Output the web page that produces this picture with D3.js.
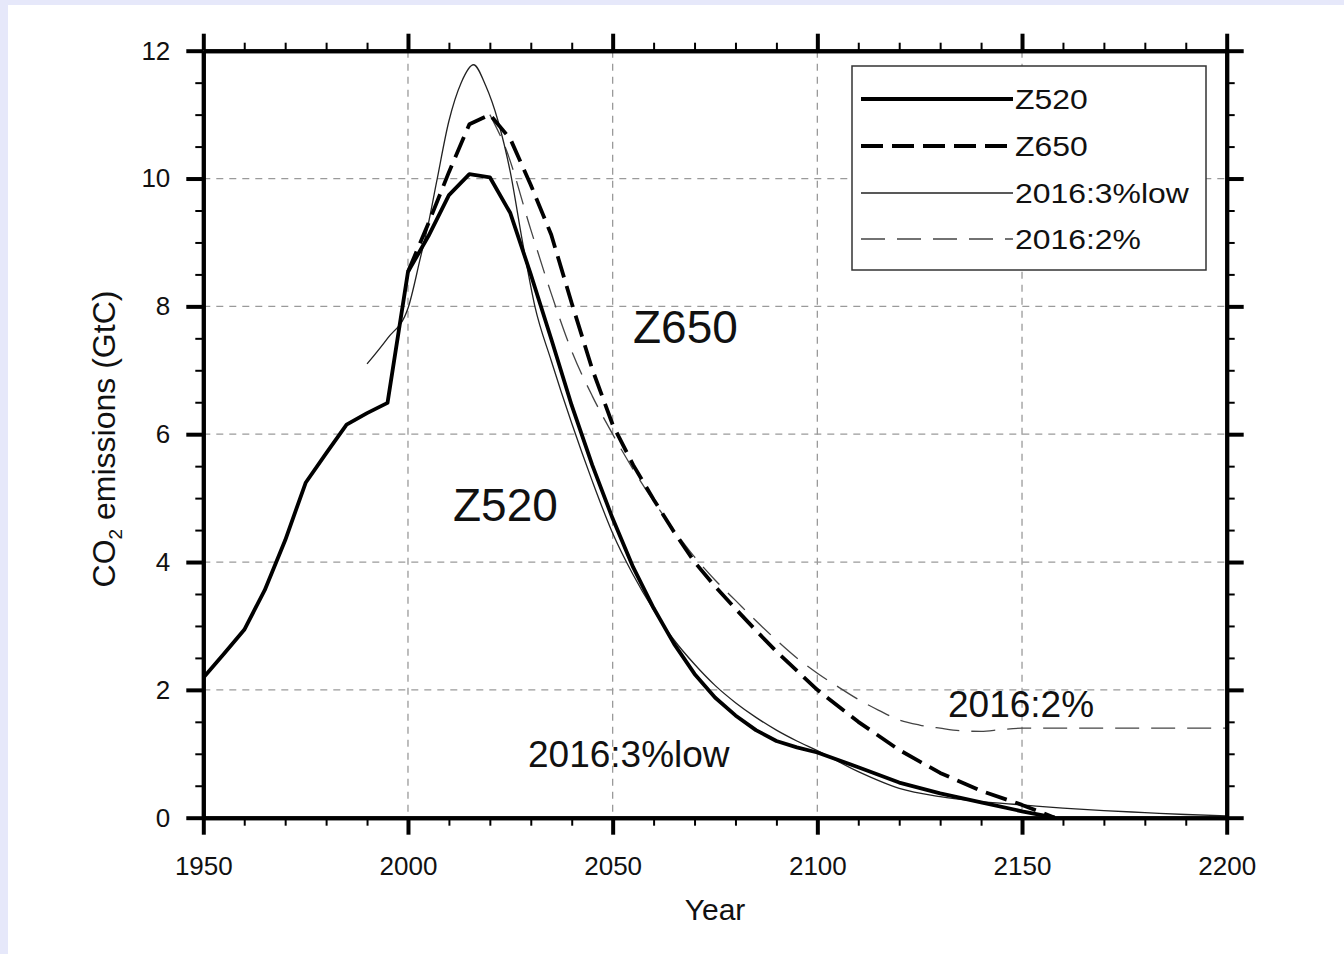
<!DOCTYPE html>
<html>
<head>
<meta charset="utf-8">
<script src="https://cdn.jsdelivr.net/npm/d3@7"></script>
<style>
  html, body { margin: 0; padding: 0; background: #e6e8fa; }
  svg { display: block; }
  text { font-family: "Liberation Sans", Arial, Helvetica, sans-serif; fill: #111; }
</style>
</head>
<body>
<svg id="chart" width="1344" height="954"></svg>
<script>
// Historical + Z520 pathway (GtC per year)
const z520Years  = [1950,1955,1960,1965,1970,1975,1980,1985,1990,1995,2000,2005,2010,2015,2020,2025,2030,2035,2040,2045,2050,2055,2060,2065,2070,2075,2080,2085,2090,2095,2100,2110,2120,2130,2140,2150,2158];
const z520Values = [2.19,2.56,2.94,3.56,4.34,5.24,5.70,6.15,6.33,6.49,8.54,9.10,9.74,10.07,10.02,9.46,8.50,7.49,6.45,5.52,4.68,3.92,3.28,2.72,2.25,1.88,1.60,1.37,1.20,1.10,1.02,0.79,0.55,0.38,0.24,0.10,0.0];

// Z650 pathway
const z650Years  = [2000,2005,2010,2015,2020,2025,2030,2035,2040,2045,2050,2055,2060,2065,2070,2075,2080,2085,2090,2095,2100,2110,2120,2130,2140,2150,2158];
const z650Values = [8.54,9.30,10.10,10.85,11.00,10.62,9.90,9.12,8.05,7.02,6.15,5.52,4.98,4.47,4.00,3.62,3.27,2.93,2.60,2.30,2.00,1.50,1.06,0.70,0.42,0.20,0.0];

// 2016:3%low pathway
const low3Years  = [1990,1995,2000,2003,2005,2007,2010,2013,2016,2019,2022,2025,2028,2031,2035,2040,2045,2050,2055,2060,2065,2070,2075,2080,2085,2090,2095,2100,2110,2120,2130,2140,2150,2160,2170,2180,2190,2200];
const low3Values = [7.10,7.50,7.97,8.75,9.30,9.95,10.90,11.50,11.78,11.45,10.90,10.10,9.00,8.00,7.15,6.17,5.27,4.45,3.80,3.25,2.78,2.40,2.07,1.80,1.57,1.37,1.20,1.05,0.72,0.46,0.33,0.25,0.20,0.15,0.11,0.08,0.05,0.03];

// 2016:2% pathway
const pct2Years  = [2020,2024,2030,2035,2040,2045,2050,2055,2060,2065,2070,2075,2080,2085,2090,2095,2100,2105,2110,2115,2120,2125,2130,2135,2140,2145,2150,2160,2200];
const pct2Values = [11.00,10.45,9.20,8.20,7.30,6.60,6.00,5.45,4.95,4.50,4.08,3.72,3.40,3.08,2.78,2.50,2.26,2.05,1.85,1.68,1.53,1.45,1.40,1.36,1.35,1.38,1.40,1.40,1.40];

const xMajor = [1950,2000,2050,2100,2150,2200];
const xMinor = d3.range(1950, 2201, 10);
const yMajor = [0,2,4,6,8,10,12];
const yMinor = d3.range(0, 12.01, 0.5);
const legendLabels = ["Z520","Z650","2016:3%low","2016:2%"];

const svg = d3.select("#chart");

// page panel
svg.append("rect").attr("x", 8).attr("y", 5).attr("width", 1336).attr("height", 949).attr("fill", "#fff");

const x = d3.scaleLinear().domain([1950, 2200]).range([203.3, 1226.7]);
const y = d3.scaleLinear().domain([0, 12]).range([817.7, 50.7]);
const [x0, x1] = x.range();
const [yb, yt] = y.range();

// grid
const grid = svg.append("g").attr("stroke", "#9a9a9a").attr("stroke-width", 1.3).attr("stroke-dasharray", "7,6");
grid.selectAll("line.gx").data(xMajor.slice(1, -1)).join("line")
  .attr("x1", d => x(d)).attr("x2", d => x(d)).attr("y1", yt).attr("y2", yb);
grid.selectAll("line.gy").data(yMajor.slice(1, -1)).join("line")
  .attr("x1", x0).attr("x2", x1).attr("y1", d => y(d)).attr("y2", d => y(d));

// series
const toPts = (ys, vs) => ys.map((yr, i) => [yr, vs[i]]);
const lineLin = d3.line().x(d => x(d[0])).y(d => y(d[1]));
const lineSmooth = d3.line().x(d => x(d[0])).y(d => y(d[1])).curve(d3.curveMonotoneX);

const styles = [
  { w: 3.8, dash: null, color: "#000" },
  { w: 3.8, dash: "22,9", color: "#000" },
  { w: 1.3, dash: null, color: "#222" },
  { w: 1.3, dash: "24,12", color: "#444" }
];

svg.append("path").datum(toPts(pct2Years, pct2Values)).attr("d", lineSmooth)
  .attr("fill", "none").attr("stroke", styles[3].color).attr("stroke-width", styles[3].w).attr("stroke-dasharray", styles[3].dash);
svg.append("path").datum(toPts(low3Years, low3Values)).attr("d", lineSmooth)
  .attr("fill", "none").attr("stroke", styles[2].color).attr("stroke-width", styles[2].w);
svg.append("path").datum(toPts(z650Years, z650Values)).attr("d", lineLin)
  .attr("fill", "none").attr("stroke", styles[1].color).attr("stroke-width", styles[1].w).attr("stroke-dasharray", styles[1].dash).attr("stroke-linejoin", "round");
svg.append("path").datum(toPts(z520Years, z520Values)).attr("d", lineLin)
  .attr("fill", "none").attr("stroke", styles[0].color).attr("stroke-width", styles[0].w).attr("stroke-linejoin", "round");

// annotations
svg.append("text").attr("x", 633).attr("y", 343).attr("font-size", 46).text("Z650");
svg.append("text").attr("x", 453).attr("y", 521).attr("font-size", 46).text("Z520");
svg.append("text").attr("x", 528).attr("y", 767).attr("font-size", 37).text("2016:3%low");
svg.append("text").attr("x", 948).attr("y", 717).attr("font-size", 37).text("2016:2%");

// legend
const lg = svg.append("g");
lg.append("rect").attr("x", 852).attr("y", 66).attr("width", 354).attr("height", 204)
  .attr("fill", "#fff").attr("stroke", "#333").attr("stroke-width", 1.5);
const rowY = [99, 146, 193, 239];
legendLabels.forEach((lab, i) => {
  const s = styles[i];
  lg.append("line").attr("x1", 861).attr("x2", 1013).attr("y1", rowY[i]).attr("y2", rowY[i])
    .attr("stroke", s.color).attr("stroke-width", s.w).attr("stroke-dasharray", s.dash);
  lg.append("text").attr("transform", `translate(1015,${rowY[i]}) scale(1.14,1)`).attr("dy", "0.36em")
    .attr("font-size", 28).text(lab);
});

// axes: minor ticks then major ticks on all four sides
function styleAxis(g, w) {
  g.select(".domain").attr("stroke", "#000").attr("stroke-width", 4);
  g.selectAll(".tick line").attr("stroke", "#000").attr("stroke-width", w);
}
const fs = 26;
const minorX = v => !xMajor.includes(v);
const minorY = v => !yMajor.includes(Math.round(v * 10) / 10);
const labelStyle = g => g.selectAll("text").attr("font-size", fs).attr("fill", "#111").attr("font-family", "Liberation Sans, Arial, sans-serif");

// bottom
svg.append("g").attr("transform", `translate(0,${yb})`)
  .call(d3.axisBottom(x).tickValues(xMinor.filter(minorX)).tickSize(8).tickSizeOuter(0).tickFormat(""))
  .call(g => styleAxis(g, 2));
svg.append("g").attr("transform", `translate(0,${yb})`)
  .call(d3.axisBottom(x).tickValues(xMajor).tickSize(17).tickSizeOuter(0).tickFormat(d3.format("d")).tickPadding(22))
  .call(g => { styleAxis(g, 4); labelStyle(g); });
// top
svg.append("g").attr("transform", `translate(0,${yt})`)
  .call(d3.axisTop(x).tickValues(xMinor.filter(minorX)).tickSize(8).tickSizeOuter(0).tickFormat(""))
  .call(g => styleAxis(g, 2));
svg.append("g").attr("transform", `translate(0,${yt})`)
  .call(d3.axisTop(x).tickValues(xMajor).tickSize(17).tickSizeOuter(0).tickFormat(""))
  .call(g => styleAxis(g, 4));
// left
svg.append("g").attr("transform", `translate(${x0},0)`)
  .call(d3.axisLeft(y).tickValues(yMinor.filter(minorY)).tickSize(8).tickSizeOuter(0).tickFormat(""))
  .call(g => styleAxis(g, 2));
svg.append("g").attr("transform", `translate(${x0},0)`)
  .call(d3.axisLeft(y).tickValues(yMajor).tickSize(17).tickSizeOuter(0).tickFormat(d3.format("d")).tickPadding(16))
  .call(g => { styleAxis(g, 4); labelStyle(g); });
// right
svg.append("g").attr("transform", `translate(${x1},0)`)
  .call(d3.axisRight(y).tickValues(yMinor.filter(minorY)).tickSize(8).tickSizeOuter(0).tickFormat(""))
  .call(g => styleAxis(g, 2));
svg.append("g").attr("transform", `translate(${x1},0)`)
  .call(d3.axisRight(y).tickValues(yMajor).tickSize(17).tickSizeOuter(0).tickFormat(""))
  .call(g => styleAxis(g, 4));

// axis titles
svg.append("text").attr("x", 715).attr("y", 920).attr("text-anchor", "middle").attr("font-size", 30).text("Year");
const yl = svg.append("text").attr("transform", "translate(115,439) rotate(-90)")
  .attr("text-anchor", "middle").attr("font-size", 32);
yl.append("tspan").text("CO");
yl.append("tspan").attr("font-size", 19).attr("dy", 7).text("2");
yl.append("tspan").attr("dy", -7).text(" emissions (GtC)");
</script>
</body>
</html>
